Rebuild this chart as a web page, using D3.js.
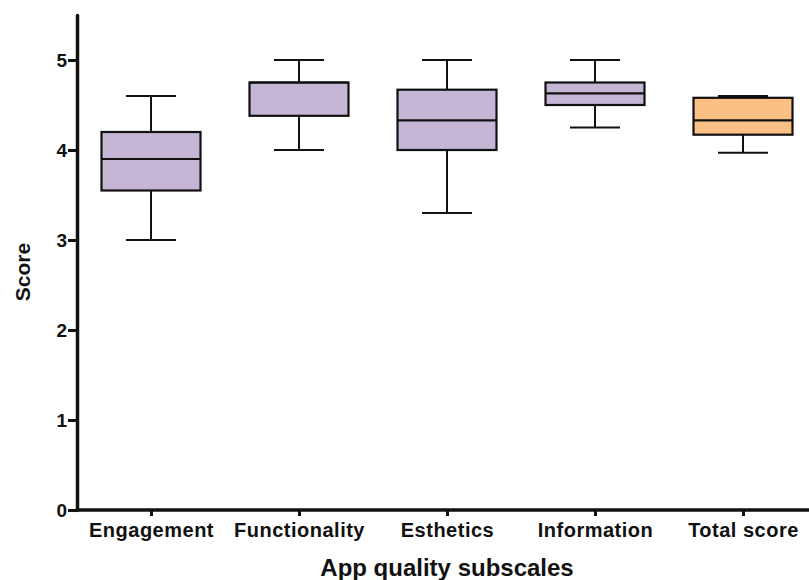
<!DOCTYPE html>
<html>
<head>
<meta charset="utf-8">
<script src="https://cdn.jsdelivr.net/npm/d3@7"></script>
<style>
  body { margin: 0; background: #fff; }
  svg { display: block; }
  .axis text { font-family: "Liberation Sans", Arial, sans-serif; font-weight: bold; fill: #111; }
  .axis path, .axis line { stroke: #111; }
</style>
</head>
<body>
<div id="chart"></div>
<script>
/**
 * Data
 */
const categories = ["Engagement", "Functionality", "Esthetics", "Information", "Total score"];
const whiskerLow = [3.0, 4.0, 3.3, 4.25, 3.97];
const q1 = [3.55, 4.38, 4.0, 4.5, 4.17];
const median = [3.9, 4.75, 4.33, 4.63, 4.33];
const q3 = [4.2, 4.75, 4.67, 4.75, 4.58];
const whiskerHigh = [4.6, 5.0, 5.0, 5.0, 4.6];
const fills = ["#c5b6d6", "#c5b6d6", "#c5b6d6", "#c5b6d6", "#fbc083"];
const yTicks = [0, 1, 2, 3, 4, 5];

const width = 809, height = 580,
    margin = { left: 77, bottom: 70, top: 15 },
    boxWidth = 99, capWidth = 50;

const rows = categories.map((c, i) => ({
    cat: c, lo: whiskerLow[i], q1: q1[i], med: median[i], q3: q3[i], hi: whiskerHigh[i], fill: fills[i]
}));

const svg = d3.select("#chart").append("svg")
    .attr("width", width)
    .attr("height", height);

// SCALES
const xScale = d3.scalePoint()
    .domain(categories)
    .range([margin.left, margin.left + 740])
    .padding(0.5);

const yScale = d3.scaleLinear()
    .domain([0, 5.5])
    .range([height - margin.bottom, margin.top]);

// BOXES
const g = svg.selectAll("g.box")
    .data(rows)
    .join("g")
    .attr("class", "box");

// whisker stems
g.append("line")
    .attr("x1", d => xScale(d.cat)).attr("x2", d => xScale(d.cat))
    .attr("y1", d => yScale(d.hi)).attr("y2", d => yScale(d.lo))
    .attr("stroke", "#111").attr("stroke-width", 2);

// caps
g.selectAll("line.cap")
    .data(d => [{ cat: d.cat, v: d.lo }, { cat: d.cat, v: d.hi }])
    .join("line")
    .attr("class", "cap")
    .attr("x1", d => xScale(d.cat) - capWidth / 2)
    .attr("x2", d => xScale(d.cat) + capWidth / 2)
    .attr("y1", d => yScale(d.v)).attr("y2", d => yScale(d.v))
    .attr("stroke", "#111").attr("stroke-width", 2);

g.append("rect")
    .attr("x", d => xScale(d.cat) - boxWidth / 2)
    .attr("width", boxWidth)
    .attr("y", d => yScale(d.q3))
    .attr("height", d => yScale(d.q1) - yScale(d.q3))
    .attr("fill", d => d.fill)
    .attr("stroke", "#111").attr("stroke-width", 2.2);

g.append("line")
    .attr("x1", d => xScale(d.cat) - boxWidth / 2)
    .attr("x2", d => xScale(d.cat) + boxWidth / 2)
    .attr("y1", d => yScale(d.med)).attr("y2", d => yScale(d.med))
    .attr("stroke", "#111").attr("stroke-width", 2.2);

// AXES
const yAxis = d3.axisLeft(yScale).tickValues(yTicks).tickFormat(d3.format("d"))
    .tickSize(9).tickSizeOuter(0).tickPadding(1);
const xAxis = d3.axisBottom(xScale).tickSize(6).tickSizeOuter(0).tickPadding(7);

const gx = svg.append("g")
    .attr("class", "axis x-axis")
    .attr("transform", `translate(0,${height - margin.bottom})`)
    .call(xAxis);
gx.select(".domain").attr("d", `M${margin.left},0H${width + 10}`).attr("stroke-width", 3.5);
gx.selectAll(".tick line").attr("stroke-width", 3);
gx.selectAll(".tick text").attr("font-size", 20).attr("letter-spacing", 0.5);

const gy = svg.append("g")
    .attr("class", "axis y-axis")
    .attr("transform", `translate(${margin.left},0)`)
    .call(yAxis);
gy.select(".domain").attr("stroke-width", 3.5).attr("stroke-linecap", "round");
gy.selectAll(".tick line").attr("stroke-width", 3);
gy.selectAll(".tick text").attr("font-size", 19);

// axis titles
svg.append("text")
    .attr("x", 447).attr("y", 576)
    .attr("text-anchor", "middle")
    .attr("font-family", "Liberation Sans, Arial, sans-serif")
    .attr("font-weight", "bold").attr("font-size", 24).attr("fill", "#111")
    .text("App quality subscales");

svg.append("text")
    .attr("transform", "translate(30,272) rotate(-90)")
    .attr("text-anchor", "middle")
    .attr("font-family", "Liberation Sans, Arial, sans-serif")
    .attr("font-weight", "bold").attr("font-size", 21).attr("fill", "#111")
    .text("Score");
</script>
</body>
</html>
